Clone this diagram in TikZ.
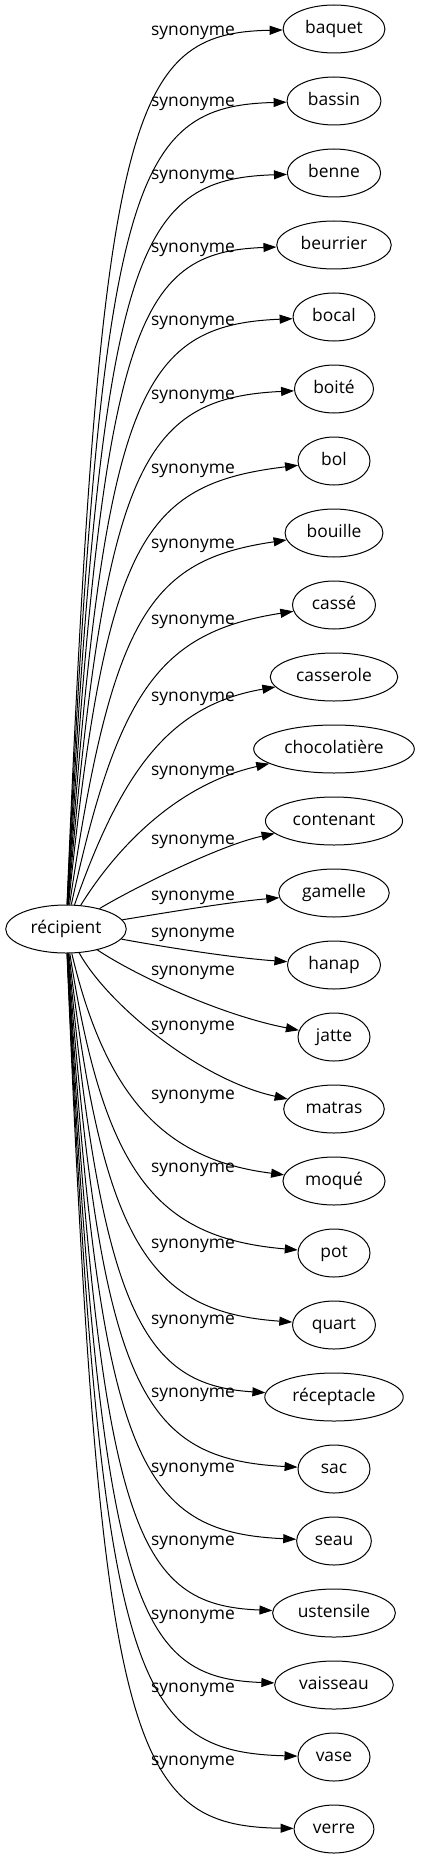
\documentclass[tikz,border=0pt]{standalone}
\usepackage{fontspec}
\setmainfont{Open Sans}
\usetikzlibrary{shapes.geometric,arrows.meta}
\begin{document}
\begin{tikzpicture}[x=1pt,y=-1pt,
    mot/.style={draw,ellipse,line width=1pt,inner xsep=7.2pt,inner ysep=2pt,
      minimum width=72pt,minimum height=48pt,text height=12.5pt,text depth=4.2pt,
      font=\fontsize{17.4}{20}\selectfont},
    syn/.style={inner sep=0pt,font=\fontsize{17.4}{20}\selectfont},
    lien/.style={line width=1pt,-{Triangle[length=13pt,width=9pt]}}]
        \useasboundingbox (0,0) rectangle (422,1859);

        \node[mot] (rec) at (66,929) {récipient};

        \node[mot] (baquet) at (334,29) {baquet};
        \node[mot] (bassin) at (334,101) {bassin};
        \node[mot] (benne) at (334,173) {benne};
        \node[mot] (beurrier) at (334,245) {beurrier};
        \node[mot] (bocal) at (334,317) {bocal};
        \node[mot] (boite) at (334,389) {boité};
        \node[mot] (bol) at (334,461) {bol};
        \node[mot] (bouille) at (334,533) {bouille};
        \node[mot] (casse) at (334,605) {cassé};
        \node[mot] (casserole) at (334,677) {casserole};
        \node[mot] (chocolatiere) at (334,749) {chocolatière};
        \node[mot] (contenant) at (334,821) {contenant};
        \node[mot] (gamelle) at (334,893) {gamelle};
        \node[mot] (hanap) at (334,965) {hanap};
        \node[mot] (jatte) at (334,1037) {jatte};
        \node[mot] (matras) at (334,1109) {matras};
        \node[mot] (moque) at (334,1181) {moqué};
        \node[mot] (pot) at (334,1253) {pot};
        \node[mot] (quart) at (334,1325) {quart};
        \node[mot] (receptacle) at (334,1397) {réceptacle};
        \node[mot] (sac) at (334,1469) {sac};
        \node[mot] (seau) at (334,1541) {seau};
        \node[mot] (ustensile) at (334,1613) {ustensile};
        \node[mot] (vaisseau) at (334,1685) {vaisseau};
        \node[mot] (vase) at (334,1757) {vase};
        \node[mot] (verre) at (334,1829) {verre};

        % upper edges
        \draw[lien] (rec) .. controls (100,109) and (130,33) .. (baquet);
        \draw[lien] (rec) .. controls (101,181) and (132,106) .. (bassin);
        \draw[lien] (rec) .. controls (102,253) and (134,179) .. (benne);
        \draw[lien] (rec) .. controls (103,325) and (136,252) .. (beurrier);
        \draw[lien] (rec) .. controls (104,397) and (138,325) .. (bocal);
        \draw[lien] (rec) .. controls (105,469) and (140,398) .. (boite);
        \draw[lien] (rec) .. controls (106,541) and (142,484) .. (bol);
        \draw[lien] (rec) .. controls (112,615) and (150,560) .. (bouille);
        \draw[lien] (rec) .. controls (118,690) and (160,632) .. (casse);
        \draw[lien] (rec) .. controls (122,770) and (170,705) .. (casserole);
        \draw[lien] (rec) .. controls (115,850) and (175,785) .. (chocolatiere);
        \draw[lien] (rec) .. controls (130,890) and (220,845) .. (contenant);

        % middle and lower edges
        \draw[lien] (rec) .. controls (170,912) and (230,902) .. (gamelle);
        \draw[lien] (rec) .. controls (170,948) and (235,958) .. (hanap);
        \draw[lien] (rec) .. controls (135,975) and (220,1015) .. (jatte);
        \draw[lien] (rec) .. controls (108,1005) and (200,1080) .. (matras);
        \draw[lien] (rec) .. controls (106,1098) and (165,1160) .. (moque);
        \draw[lien] (rec) .. controls (104,1172) and (155,1238) .. (pot);
        \draw[lien] (rec) .. controls (103,1245) and (150,1312) .. (quart);
        \draw[lien] (rec) .. controls (102,1317) and (145,1385) .. (receptacle);
        \draw[lien] (rec) .. controls (101,1389) and (140,1459) .. (sac);
        \draw[lien] (rec) .. controls (100,1461) and (138,1532) .. (seau);
        \draw[lien] (rec) .. controls (100,1533) and (136,1605) .. (ustensile);
        \draw[lien] (rec) .. controls (100,1605) and (135,1678) .. (vaisseau);
        \draw[lien] (rec) .. controls (100,1677) and (132,1752) .. (vase);
        \draw[lien] (rec) .. controls (100,1749) and (130,1826) .. (verre);

        % edge labels
        \node[syn] (s1) at (193,33) {synonyme};
        \node[syn] (s2) at (193,104) {synonyme};
        \node[syn] (s3) at (193,177) {synonyme};
        \node[syn] (s4) at (193,250) {synonyme};
        \node[syn] (s5) at (193,323) {synonyme};
        \node[syn] (s6) at (193,397) {synonyme};
        \node[syn] (s7) at (193,471) {synonyme};
        \node[syn] (s8) at (193,546) {synonyme};
        \node[syn] (s9) at (193,622) {synonyme};
        \node[syn] (s10) at (193,699) {synonyme};
        \node[syn] (s11) at (193,773) {synonyme};
        \node[syn] (s12) at (193,842) {synonyme};
        \node[syn] (s13) at (193,898) {synonyme};
        \node[syn] (s14) at (193,935) {synonyme};
        \node[syn] (s15) at (193,973) {synonyme};
        \node[syn] (s16) at (193,1028) {synonyme};
        \node[syn] (s17) at (193,1097) {synonyme};
        \node[syn] (s18) at (193,1170) {synonyme};
        \node[syn] (s19) at (193,1246) {synonyme};
        \node[syn] (s20) at (193,1322) {synonyme};
        \node[syn] (s21) at (193,1395) {synonyme};
        \node[syn] (s22) at (193,1470) {synonyme};
        \node[syn] (s23) at (193,1543) {synonyme};
        \node[syn] (s24) at (193,1617) {synonyme};
        \node[syn] (s25) at (193,1690) {synonyme};
        \node[syn] (s26) at (193,1763) {synonyme};
      \end{tikzpicture}
\end{document}
